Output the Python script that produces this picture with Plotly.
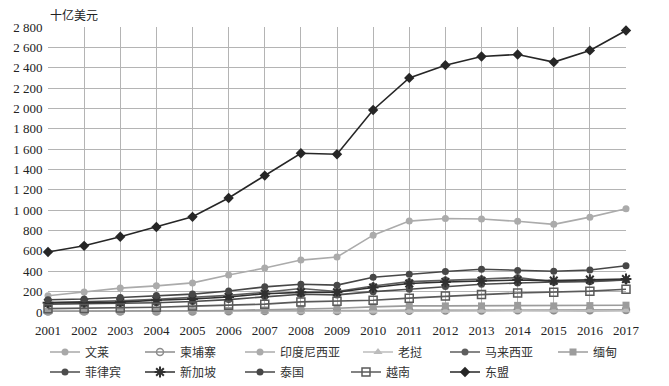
import plotly.graph_objects as go

years = list(range(2001, 2018))

brunei      = [6, 6, 7, 8, 10, 12, 12, 14, 11, 14, 19, 19, 18, 17, 13, 11, 12]
cambodia    = [4, 4, 5, 5, 6, 7, 9, 10, 10, 11, 13, 14, 15, 17, 18, 20, 22]
indonesia   = [160, 196, 235, 257, 286, 364, 432, 510, 540, 755, 893, 918, 913, 891, 861, 932, 1015]
laos        = [2, 2, 2, 3, 3, 4, 4, 5, 6, 7, 9, 10, 12, 13, 14, 16, 17]
malaysia    = [93, 101, 110, 125, 144, 163, 194, 231, 202, 255, 298, 314, 323, 338, 296, 297, 315]
myanmar     = [7, 7, 9, 10, 12, 15, 20, 31, 37, 50, 60, 60, 60, 65, 60, 63, 67]
philippines = [76, 81, 84, 91, 103, 122, 149, 174, 168, 200, 224, 250, 272, 285, 293, 305, 314]
singapore   = [90, 92, 97, 115, 127, 148, 180, 193, 194, 240, 280, 295, 307, 314, 308, 318, 324]
thailand    = [120, 127, 143, 161, 176, 207, 247, 272, 264, 341, 371, 398, 420, 407, 401, 412, 455]
vietnam     = [33, 35, 40, 46, 58, 66, 77, 99, 106, 116, 136, 156, 171, 186, 193, 205, 224]
asean       = [590, 650, 740, 835, 935, 1120, 1340, 1560, 1550, 1985, 2300, 2425, 2510, 2530, 2455, 2570, 2765]

# name, values, colour, symbol, size, legend text x (px), legend row y (px)
series = [
    ("文莱", brunei, "#a8a8a8", "circle", 7, 92, 352),
    ("柬埔寨", cambodia, "#8c8c8c", "circle-open", 7, 187, 352),
    ("印度尼西亚", indonesia, "#ababab", "circle", 7, 287, 352),
    ("老挝", laos, "#bcbcbc", "triangle-up", 8, 405, 352),
    ("马来西亚", malaysia, "#5e5e5e", "circle", 7, 492, 352),
    ("缅甸", myanmar, "#9c9c9c", "square", 7, 600, 352),
    ("菲律宾", philippines, "#4c4c4c", "circle", 7, 92, 372),
    ("新加坡", singapore, "#303030", "asterisk-open", 9, 187, 372),
    ("泰国", thailand, "#474747", "circle", 7, 287, 372),
    ("越南", vietnam, "#5a5a5a", "square-open", 8, 393, 372),
    ("东盟", asean, "#262626", "diamond", 8, 492, 372),
]

SERIF = "Times New Roman, Liberation Serif, DejaVu Serif, serif"
CJK = "Noto Sans CJK SC"
W, H = 669, 386

fig = go.Figure()
legends = {}
for i, (name, vals, col, sym, sz, tx, ty) in enumerate(series):
    mk = dict(symbol=sym, size=sz, color=col)
    if sym == "asterisk-open":
        mk["line"] = dict(color=col, width=2)
    elif sym.endswith("-open"):
        mk["line"] = dict(color=col, width=1.5)
    lg = "legend" if i == 0 else f"legend{i + 1}"
    fig.add_trace(go.Scatter(
        x=years, y=vals, name=name, mode="lines+markers", legend=lg,
        line=dict(color=col, width=1.6), marker=mk, cliponaxis=False,
    ))
    legends[lg] = dict(
        orientation="v", xref="container", yref="container",
        x=(tx - 47) / W, xanchor="left",
        y=1 - ty / H, yanchor="middle",
        font=dict(family=CJK, size=12, color="#333"),
        itemwidth=30, bgcolor="rgba(0,0,0,0)",
    )

fig.update_layout(
    width=W, height=H,
    margin=dict(l=48, r=43, t=27, b=74, autoexpand=False),
    paper_bgcolor="white", plot_bgcolor="white",
    separators=". ",
    font=dict(family=SERIF, size=12, color="#222"),
    showlegend=True,
    annotations=[dict(
        text="十亿美元", xref="paper", yref="paper", x=0.0, y=1.0,
        xanchor="left", yanchor="bottom", showarrow=False,
        font=dict(family=CJK, size=12, color="#222"), xshift=0, yshift=2,
    )],
    **legends,
)
fig.update_xaxes(
    range=[2001, 2017], tickmode="array", tickvals=years, ticktext=[str(y) for y in years],
    showgrid=True, gridcolor="#b4b4b4", gridwidth=1, zeroline=False,
    showline=False, ticks="outside", ticklen=6, tickcolor="rgba(0,0,0,0)",
    tickfont=dict(size=13, family=SERIF),
)
fig.update_yaxes(
    range=[0, 2800], dtick=200, tickformat=",d",
    showgrid=True, gridcolor="#b4b4b4", gridwidth=1, zeroline=False,
    showline=False, ticks="outside", ticklen=2, tickcolor="rgba(0,0,0,0)",
    tickfont=dict(size=13, family=SERIF),
)

fig.write_html(
    "out.html",
    config={"displayModeBar": False},
    post_script="document.body.style.margin='0';document.body.style.overflow='hidden';",
)
